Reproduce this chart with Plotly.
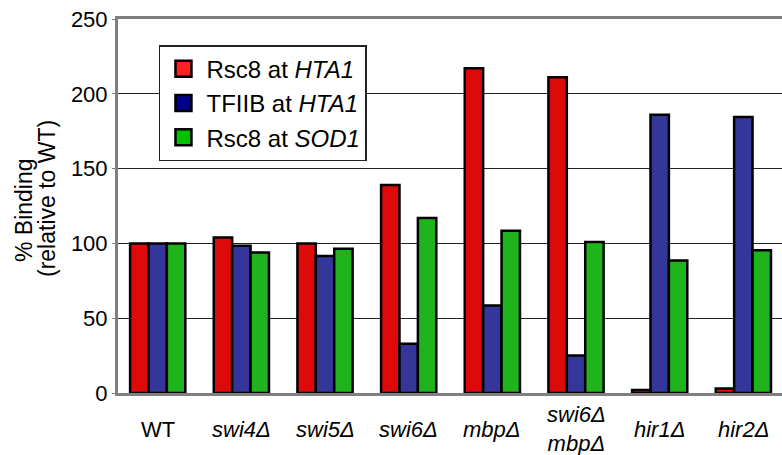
import plotly.graph_objects as go

# ---- data ----
categories = ["WT", "swi4", "swi5", "swi6", "mbp", "swi6mbp", "hir1", "hir2"]
tick_labels = ["WT", "<i>swi4Δ</i>", "<i>swi5Δ</i>", "<i>swi6Δ</i>", "<i>mbpΔ</i>",
               "<i>swi6Δ</i><br><i>mbpΔ</i>", "<i>hir1Δ</i>", "<i>hir2Δ</i>"]
rsc8_hta1 = [100, 104, 100, 139, 217, 211, 2, 3]
tfiib_hta1 = [100, 98.5, 91.5, 33, 58.5, 25, 186, 184.5]
rsc8_sod1 = [100, 94, 96.5, 117, 108.5, 101, 88.5, 95.5]
series_names = ["Rsc8 at <i>HTA1</i>", "TFIIB at <i>HTA1</i>", "Rsc8 at <i>SOD1</i>"]
y_ticks = [0, 50, 100, 150, 200, 250]

bar_colors = ["#DE0A0A", "#35369A", "#20B41C"]
legend_colors = ["#FF2020", "#000088", "#00C000"]
FONT = "Liberation Sans, Arial, sans-serif"

fig = go.Figure()
for vals, col in zip([rsc8_hta1, tfiib_hta1, rsc8_sod1], bar_colors):
    fig.add_trace(go.Bar(x=categories, y=vals, marker=dict(color=col, line=dict(color="black", width=2.5)),
                         showlegend=False))

# legend-only entries (legend swatches use brighter colours in the original)
for name, col in zip(series_names, legend_colors):
    fig.add_trace(go.Scatter(x=[None], y=[None], mode="markers", name=name, legendgroup=name,
                             marker=dict(symbol="square", size=16, color=col,
                                         line=dict(color="black", width=2.5))))

annotations = []
for cat, lab in zip(categories, tick_labels):
    annotations.append(dict(x=cat, xref="x", y=0, yref="y", text=lab, showarrow=False,
                            yanchor="middle", xanchor="center", yshift=-36,
                            font=dict(family=FONT, size=22, color="black")))
annotations.append(dict(x=0, xref="paper", y=0.5, yref="paper", text="% Binding", showarrow=False,
                        textangle=-90, xanchor="center", yanchor="middle", xshift=-94, yshift=-4,
                        font=dict(family=FONT, size=23, color="black")))
annotations.append(dict(x=0, xref="paper", y=0.5, yref="paper", text="(relative to WT)", showarrow=False,
                        textangle=-90, xanchor="center", yanchor="middle", xshift=-71, yshift=7,
                        font=dict(family=FONT, size=23, color="black")))

fig.update_layout(
    width=782, height=455,
    margin=dict(l=118, r=0, t=19, b=62),
    paper_bgcolor="white", plot_bgcolor="white",
    barmode="group", bargap=0.34, bargroupgap=0,
    font=dict(family=FONT, size=22, color="black"),
    legend=dict(x=0.0617, y=0.93, xanchor="left", yanchor="top",
                bgcolor="white", bordercolor="#222222", borderwidth=1.5,
                font=dict(family=FONT, size=24, color="black"),
                tracegroupgap=0, traceorder="grouped", itemwidth=36),
    annotations=annotations,
    xaxis=dict(type="category", categoryorder="array", categoryarray=categories,
               range=[-0.4745, 7.462], showticklabels=False, ticks="",
               showline=True, mirror=True, linecolor="#808080", linewidth=3,
               showgrid=False, zeroline=False),
    yaxis=dict(range=[0, 250], tickvals=y_ticks, ticktext=[str(v) for v in y_ticks],
               showline=True, linecolor="#808080", linewidth=3, mirror=False,
               ticks="outside", ticklen=3, tickcolor="#808080",
               showgrid=True, gridcolor="#222222", gridwidth=1, zeroline=False,
               tickfont=dict(family=FONT, size=22, color="black")),
)

fig.write_html("out.html")
